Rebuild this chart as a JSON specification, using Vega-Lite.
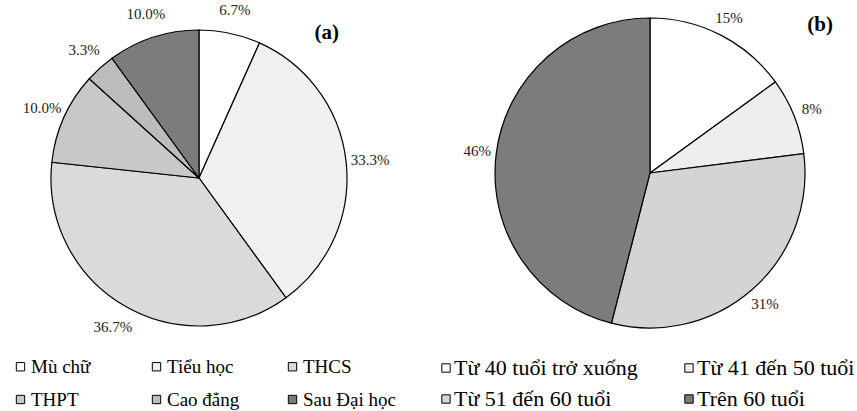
{
  "$schema": "https://vega.github.io/schema/vega-lite/v6.json",
  "padding": {"left": 0, "top": 2, "right": 0, "bottom": 0},
  "background": "white",
  "spacing": 28,
  "resolve": {"scale": {"color": "independent", "theta": "independent"}, "legend": {"color": "independent"}},
  "config": {"view": {"stroke": null}, "font": "Liberation Serif"},
  "hconcat": [
    {
      "width": 398,
      "height": 300,
      "title": {"text": "(a)", "anchor": "end", "frame": "group", "dx": -59, "offset": -40, "fontSize": 21, "fontWeight": "bold", "font": "Liberation Serif", "color": "black"},
      "data": {"values": [
        {"category": "Mù chữ", "value": 6.7, "order": 1, "label": "6.7%"},
        {"category": "Tiểu học", "value": 33.3, "order": 2, "label": "33.3%"},
        {"category": "THCS", "value": 36.7, "order": 3, "label": "36.7%"},
        {"category": "THPT", "value": 10.0, "order": 4, "label": "10.0%"},
        {"category": "Cao đẳng", "value": 3.3, "order": 5, "label": "3.3%"},
        {"category": "Sau Đại học", "value": 10.0, "order": 6, "label": "10.0%"}
      ]},
      "encoding": {
        "theta": {"field": "value", "type": "quantitative", "stack": true},
        "order": {"field": "order", "type": "quantitative"}
      },
      "layer": [
        {
          "mark": {"type": "arc", "outerRadius": 148, "stroke": "black", "strokeWidth": 1.2},
          "encoding": {
            "color": {
              "field": "category", "type": "nominal",
              "sort": ["Mù chữ", "Tiểu học", "THCS", "THPT", "Cao đẳng", "Sau Đại học"],
              "scale": {"domain": ["Mù chữ", "Tiểu học", "THCS", "THPT", "Cao đẳng", "Sau Đại học"], "range": ["#ffffff", "#f0f0f0", "#dadada", "#c8c8c8", "#bcbcbc", "#7c7c7c"]},
              "legend": {"orient": "bottom", "direction": "horizontal", "columns": 3, "title": null, "symbolType": "square", "symbolSize": 70, "symbolStrokeColor": "black", "symbolStrokeWidth": 1, "labelFont": "Liberation Serif", "labelFontSize": 19, "labelColor": "black", "gridAlign": "all", "columnPadding": 23, "rowPadding": 13, "offset": 18, "padding": 11, "labelLimit": 300, "symbolOffset": 0, "labelOffset": 1}
            }
          }
        },
        {
          "mark": {"type": "text", "radius": 172, "fontSize": 15, "font": "Liberation Serif", "color": "#222222"},
          "encoding": {"text": {"field": "label", "type": "nominal"}}
        }
      ]
    },
    {
      "width": 430,
      "height": 290,
      "title": {"text": "(b)", "anchor": "end", "frame": "group", "dx": -32, "offset": -24, "fontSize": 21, "fontWeight": "bold", "font": "Liberation Serif", "color": "black"},
      "data": {"values": [
        {"category": "Từ 40 tuổi trở xuống", "value": 15, "order": 1, "label": "15%"},
        {"category": "Từ 41 đến 50 tuổi", "value": 8, "order": 2, "label": "8%"},
        {"category": "Từ 51 đến 60 tuổi", "value": 31, "order": 3, "label": "31%"},
        {"category": "Trên 60 tuổi", "value": 46, "order": 4, "label": "46%"}
      ]},
      "encoding": {
        "theta": {"field": "value", "type": "quantitative", "stack": true},
        "order": {"field": "order", "type": "quantitative"}
      },
      "layer": [
        {
          "mark": {"type": "arc", "outerRadius": 155, "stroke": "black", "strokeWidth": 1.2},
          "encoding": {
            "color": {
              "field": "category", "type": "nominal",
              "sort": ["Từ 40 tuổi trở xuống", "Từ 41 đến 50 tuổi", "Từ 51 đến 60 tuổi", "Trên 60 tuổi"],
              "scale": {"domain": ["Từ 40 tuổi trở xuống", "Từ 41 đến 50 tuổi", "Từ 51 đến 60 tuổi", "Trên 60 tuổi"], "range": ["#ffffff", "#eeeeee", "#d4d4d4", "#7c7c7c"]},
              "legend": {"orient": "bottom", "direction": "horizontal", "columns": 2, "title": null, "symbolType": "square", "symbolSize": 70, "symbolStrokeColor": "black", "symbolStrokeWidth": 1, "labelFont": "Liberation Serif", "labelFontSize": 22, "labelColor": "black", "gridAlign": "each", "columnPadding": 40, "rowPadding": 9, "offset": 39, "labelLimit": 300, "symbolOffset": 0, "labelOffset": -3}
            }
          }
        },
        {
          "mark": {"type": "text", "radius": 174, "fontSize": 15, "font": "Liberation Serif", "color": "#222222"},
          "encoding": {"text": {"field": "label", "type": "nominal"}}
        }
      ]
    }
  ]
}
